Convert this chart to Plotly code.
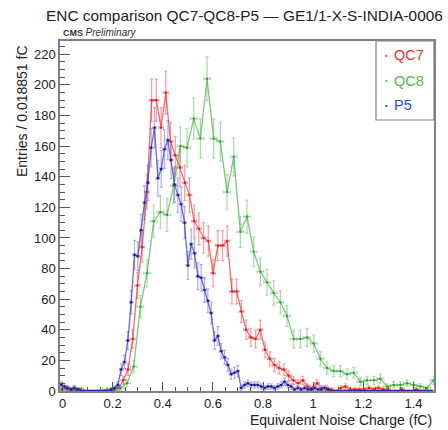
import numpy as np
import plotly.graph_objects as go

chart_title = "ENC comparison QC7-QC8-P5 — GE1/1-X-S-INDIA-0006"
x_title = "Equivalent Noise Charge (fC)"
y_title = "Entries / 0.018851 fC"
series_names = ["QC7", "QC8", "P5"]

# QC7 histogram (bin width 0.018851 fC)
qc7_bin_width = 0.018851
qc7_first_center = -0.0026
qc7_counts = [1, 2, 0, 1, 1, 0, 0, 0, 0, 0,
              0, 1, 2, 7, 14, 34, 69, 94, 130, 190,
              190, 172, 195, 163, 154, 146, 136, 128, 111, 106,
              100, 98, 77, 95, 95, 98, 65, 65, 52, 40,
              35, 34, 40, 27, 21, 17, 15, 14, 10, 7,
              5, 7, 3, 2, 5, 2, 2, 1, 0, 2,
              3, 1, 1, 1, 1, 2, 1, 2, 1, 1,
              0, 0, 1, 0, 0, 1, 0, 0, 0]

# QC8 histogram
qc8_bin_width = 0.0266
qc8_first_center = 0.018
qc8_counts = [1, 2, 1, 0, 0, 0, 1, 1, 2, 5,
              16, 55, 77, 111, 117, 115, 134, 160, 159, 178,
              165, 204, 165, 163, 130, 153, 104, 114, 91, 78,
              71, 64, 58, 49, 34, 34, 35, 31, 21, 15,
              13, 13, 11, 12, 6, 7, 7, 8, 3, 4,
              4, 5, 4, 3, 2, 7]

# P5 histogram
p5_bin_width = 0.0133
p5_first_center = -0.00535
p5_counts = [4, 3, 2, 1, 2, 1, 0, 0, 0, 0,
             0, 0, 0, 0, 0, 1, 2, 4, 14, 19,
             33, 58, 89, 88, 105, 123, 136, 159, 172, 139,
             145, 158, 164, 151, 135, 128, 122, 110, 82, 96,
             90, 75, 74, 66, 59, 51, 33, 36, 26, 22,
             17, 11, 12, 13, 2, 4, 5, 4, 4, 4,
             3, 2, 3, 3, 2, 3, 4, 6, 4, 3,
             1, 2, 1, 2, 1, 1, 2, 1, 1, 2,
             1, 0, 0, 0, 0, 0, 0, 0, 0, 0,
             0, 0, 0, 0, 0, 0, 0, 0, 0, 0,
             0, 0, 0, 0, 0, 0, 0, 0, 0, 0,
             0, 0]

x_tick_vals = [0, 0.2, 0.4, 0.6, 0.8, 1.0, 1.2, 1.4]
x_tick_text = ["0", "0.2", "0.4", "0.6", "0.8", "1", "1.2", "1.4"]
y_tick_vals = [0, 20, 40, 60, 80, 100, 120, 140, 160, 180, 200, 220]

FONT = "Liberation Sans, Arial, Helvetica, sans-serif"
styles = {
    "QC7": dict(line="rgba(235,45,50,0.7)", marker="rgb(215,30,35)", err="rgba(235,60,65,0.5)", text="#e8312f"),
    "QC8": dict(line="rgba(70,175,70,0.7)", marker="rgb(50,160,50)", err="rgba(80,180,80,0.5)", text="#55b54a"),
    "P5": dict(line="rgba(50,45,185,0.7)", marker="rgb(25,25,140)", err="rgba(80,70,210,0.45)", text="#2848d0"),
}

hists = [
    ("QC7", qc7_first_center, qc7_bin_width, qc7_counts),
    ("QC8", qc8_first_center, qc8_bin_width, qc8_counts),
    ("P5", p5_first_center, p5_bin_width, p5_counts),
]

fig = go.Figure()
for name, c0, w, counts in hists:
    y = np.array(counts, dtype=float)
    x = c0 + w * np.arange(len(y))
    st = styles[name]
    fig.add_trace(go.Scatter(
        x=x, y=y, mode="lines+markers", name=name, showlegend=False,
        line=dict(color=st["line"], width=1.3),
        marker=dict(color=st["marker"], size=2.5),
        error_y=dict(type="data", array=np.sqrt(y), color=st["err"], thickness=1.2, width=1.5),
        error_x=dict(type="constant", value=w / 2, color=st["err"], thickness=1.2, width=1.5),
        cliponaxis=True,
    ))

axis_common = dict(
    showline=True, linecolor="#808080", linewidth=1.5, mirror=True,
    ticks="inside", tickcolor="#555555", showgrid=False, zeroline=False,
    tickfont=dict(family=FONT, size=13, color="#222222"), automargin=False,
)
fig.update_xaxes(range=[-0.01, 1.482], tickvals=x_tick_vals, ticktext=x_tick_text,
                 ticklen=9, tickwidth=1,
                 minor=dict(dtick=0.05, tick0=0, ticks="inside", ticklen=4.5, tickcolor="#555555"),
                 **axis_common)
fig.update_yaxes(range=[0, 228.7], tickvals=y_tick_vals, ticklen=10, tickwidth=1,
                 minor=dict(dtick=5, tick0=0, ticks="inside", ticklen=5, tickcolor="#555555"),
                 **axis_common)

annotations = [
    dict(text=chart_title, xref="paper", yref="paper", x=(244-60)/374, y=1.0 + 26/350, xanchor="center", yanchor="middle",
         showarrow=False, font=dict(family=FONT, size=15.4, color="#222222")),
    dict(text="<b>CMS</b> <i style='font-size:10px'>Preliminary</i>", xref="paper", yref="paper",
         x=0.003, y=1.0 + 8/350, xanchor="left", yanchor="middle",
         showarrow=False, font=dict(family=FONT, size=9, color="#333333")),
    dict(text=y_title, xref="paper", yref="paper", x=-38/374, y=(391-111)/350, xanchor="center", yanchor="middle",
         textangle=-90, showarrow=False, font=dict(family=FONT, size=14, color="#222222")),
    dict(text=x_title, xref="paper", yref="paper", x=1.0, y=-29/350, xanchor="right", yanchor="middle",
         showarrow=False, font=dict(family=FONT, size=14, color="#222222")),
]
legend_y = [55, 80.5, 105]
for name, ly in zip(series_names, legend_y):
    col = styles[name]["text"]
    annotations.append(dict(text="•", xref="paper", yref="paper", x=(386-60)/374, y=(391-ly)/350,
                            xanchor="center", yanchor="middle", showarrow=False,
                            font=dict(family=FONT, size=8, color=col)))
    annotations.append(dict(text=name, xref="paper", yref="paper", x=(392-60)/374, y=(391-ly)/350,
                            xanchor="left", yanchor="middle", showarrow=False,
                            font=dict(family=FONT, size=14.5, color=col)))

shapes = [dict(type="rect", xref="paper", yref="paper", x0=(376-60)/374, x1=1.0,
               y0=(391-120)/350, y1=1.0, line=dict(color="#808080", width=1.2), fillcolor="white", layer="above")]

fig.update_layout(
    width=448, height=430,
    margin=dict(l=60, r=14, t=41, b=39),
    paper_bgcolor="white", plot_bgcolor="white",
    showlegend=False,
    annotations=annotations,
    shapes=shapes,
)
fig.write_html("out.html", config={"displayModeBar": False},
               post_script="document.body.style.margin='0';document.body.style.overflow='hidden';")
